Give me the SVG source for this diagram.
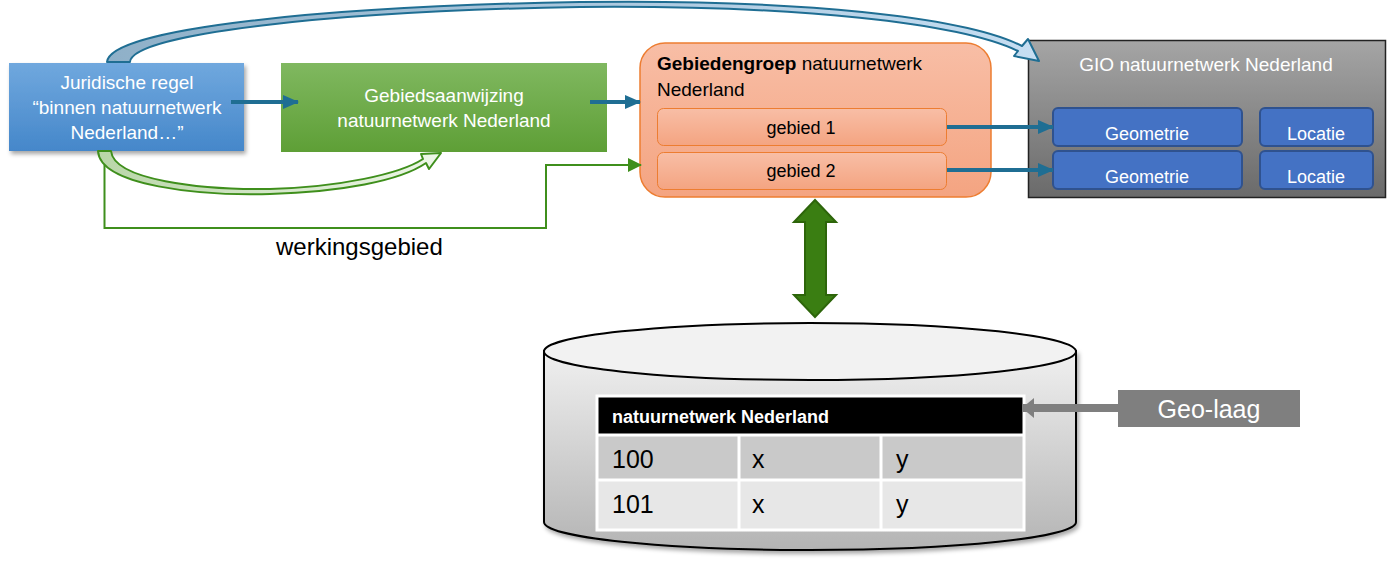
<svg xmlns="http://www.w3.org/2000/svg" width="1387" height="561" viewBox="0 0 1387 561">
<defs>
<style>
text{font-family:"Liberation Sans",Arial,sans-serif}
.w{fill:#fff}
.k{fill:#000}
.teal{stroke:#1f6e93;stroke-width:4;fill:none}
.geo{fill:#4472c4;stroke:#2f528f;stroke-width:2}
.tb{stroke:#fff;stroke-width:3}
</style>
<linearGradient id="gBlue" x1="0" y1="0" x2="0" y2="1"><stop offset="0" stop-color="#70a8de"/><stop offset="1" stop-color="#4587ca"/></linearGradient>
<linearGradient id="gGreen" x1="0" y1="0" x2="0" y2="1"><stop offset="0" stop-color="#80b860"/><stop offset="1" stop-color="#5e9f36"/></linearGradient>
<linearGradient id="gOrange" x1="0" y1="0" x2="0" y2="1"><stop offset="0" stop-color="#f8bea6"/><stop offset="1" stop-color="#f4a481"/></linearGradient>
<linearGradient id="gGray" x1="0" y1="0" x2="0" y2="1"><stop offset="0" stop-color="#a5a5a5"/><stop offset="1" stop-color="#6a6a6a"/></linearGradient>
<linearGradient id="gCyl" x1="0" y1="0" x2="0" y2="1"><stop offset="0" stop-color="#f0f0f0"/><stop offset="1" stop-color="#b4b4b4"/></linearGradient>
<linearGradient id="gTopArrow" x1="0" y1="0" x2="1" y2="0"><stop offset="0" stop-color="#8fb0c8"/><stop offset="1" stop-color="#c6def2"/></linearGradient>
<linearGradient id="gBotArrow" x1="0" y1="0" x2="1" y2="0"><stop offset="0" stop-color="#b9d6a8"/><stop offset="1" stop-color="#eef7e8"/></linearGradient>
<filter id="sh" x="-10%" y="-10%" width="130%" height="140%"><feDropShadow dx="2" dy="3" stdDeviation="2" flood-color="#000" flood-opacity="0.35"/></filter>
<marker id="aTeal" markerUnits="userSpaceOnUse" markerWidth="16" markerHeight="14" refX="15" refY="7" orient="auto"><path d="M0,0 L16,7 L0,14 Z" fill="#1f6e93"/></marker>
<marker id="aGreen" markerUnits="userSpaceOnUse" markerWidth="14" markerHeight="14" refX="13" refY="7" orient="auto"><path d="M0,0 L14,7 L0,14 Z" fill="#3f8f1c"/></marker>
<marker id="aGray" markerUnits="userSpaceOnUse" markerWidth="12" markerHeight="20" refX="11" refY="10" orient="auto"><path d="M0,0 L12,10 L0,20 Z" fill="#7f7f7f"/></marker>
</defs>

<g id="juridische-regel">
<rect x="9" y="63" width="235" height="88" fill="url(#gBlue)" filter="url(#sh)"/>
<text class="w" font-size="19" text-anchor="middle"><tspan x="127" y="89">Juridische regel</tspan><tspan x="127" y="114">“binnen natuurnetwerk</tspan><tspan x="127" y="139">Nederland…”</tspan></text>
</g>

<g id="gebiedsaanwijzing">
<rect x="281" y="63" width="326" height="89" fill="url(#gGreen)"/>
<text class="w" font-size="19" text-anchor="middle"><tspan x="444" y="102">Gebiedsaanwijzing</tspan><tspan x="444" y="127">natuurnetwerk Nederland</tspan></text>
</g>

<g id="gebiedengroep">
<rect x="640" y="43" width="351" height="154" rx="25" fill="url(#gOrange)" stroke="#ed7d31" stroke-width="1.5"/>
<text class="k" font-size="19"><tspan x="657" y="70" font-weight="bold">Gebiedengroep</tspan><tspan> natuurnetwerk</tspan><tspan x="657" y="96">Nederland</tspan></text>
</g>
<g id="gebied-1">
<rect x="657.5" y="108.5" width="289" height="37" rx="6" fill="url(#gOrange)" stroke="#ed7d31" stroke-width="1"/>
<text class="k" font-size="18" text-anchor="middle" x="801" y="134">gebied 1</text>
</g>
<g id="gebied-2">
<rect x="657.5" y="152.5" width="289" height="37" rx="6" fill="url(#gOrange)" stroke="#ed7d31" stroke-width="1"/>
<text class="k" font-size="18" text-anchor="middle" x="801" y="177">gebied 2</text>
</g>

<g id="gio">
<rect x="1028.5" y="40.5" width="357" height="157" fill="url(#gGray)" stroke="#222" stroke-width="1.5"/>
<text class="w" font-size="19" text-anchor="middle" x="1206" y="71">GIO natuurnetwerk Nederland</text>
</g>
<g id="geometrie-1">
<rect class="geo" x="1053" y="108" width="189" height="38" rx="5"/>
<text class="w" font-size="18" text-anchor="middle" x="1147" y="140">Geometrie</text>
</g>
<g id="geometrie-2">
<rect class="geo" x="1053" y="151" width="189" height="38" rx="5"/>
<text class="w" font-size="18" text-anchor="middle" x="1147" y="183">Geometrie</text>
</g>
<g id="locatie-1">
<rect class="geo" x="1260" y="108" width="113" height="38" rx="5"/>
<text class="w" font-size="18" text-anchor="middle" x="1316" y="140">Locatie</text>
</g>
<g id="locatie-2">
<rect class="geo" x="1260" y="151" width="113" height="38" rx="5"/>
<text class="w" font-size="18" text-anchor="middle" x="1316" y="183">Locatie</text>
</g>

<text id="werkingsgebied" class="k" font-size="24" x="276" y="255">werkingsgebied</text>

<g id="database">
<path d="M544,351 V522 A266,28 0 0 0 1076,522 V351 Z" fill="url(#gCyl)" stroke="#000" stroke-width="2" filter="url(#sh)"/>
<ellipse cx="810" cy="351.5" rx="266" ry="28.5" fill="#f2f2f2" stroke="#000" stroke-width="2"/>
<rect x="597" y="396" width="427" height="38" fill="#000"/>
<rect x="597" y="436" width="427" height="44" fill="#c9c9c9"/>
<rect x="597" y="480" width="427" height="50" fill="#e7e7e7"/>
<rect x="597" y="396" width="427" height="134" fill="none" class="tb"/>
<line class="tb" x1="597" y1="435" x2="1024" y2="435"/>
<line class="tb" x1="597" y1="480" x2="1024" y2="480"/>
<line class="tb" x1="739" y1="435" x2="739" y2="530"/>
<line class="tb" x1="881" y1="435" x2="881" y2="530"/>
<text class="w" font-size="18" font-weight="bold" x="612" y="423">natuurnetwerk Nederland</text>
<text class="k" font-size="25" x="612" y="468">100</text>
<text class="k" font-size="25" x="752" y="468">x</text>
<text class="k" font-size="25" x="896" y="468">y</text>
<text class="k" font-size="25" x="612" y="513">101</text>
<text class="k" font-size="25" x="752" y="513">x</text>
<text class="k" font-size="25" x="896" y="513">y</text>
</g>

<g id="geo-laag">
<rect x="1118" y="390" width="182" height="37" fill="#7f7f7f"/>
<text class="w" font-size="25" text-anchor="middle" x="1209" y="418">Geo-laag</text>
</g>

<g id="connectors">
<path d="M107,62 C110,28 330,6 580,2 C800,-1 965,17 1022,46 L1028,39 L1039,61 L1014,56 L1018,51 C960,23 800,5 580,7 C330,11 132,34 130,62 Z" fill="url(#gTopArrow)" stroke="#1f6e93" stroke-width="2" stroke-linejoin="round"/>
<path d="M98,151 C100,186 200,196 270,194 C340,192 400,181 426,163 L429,169 L441,153 L421,154 L423,159 C400,174 340,187 270,189 C200,190 114,180 111,151 Z" fill="url(#gBotArrow)" stroke="#3f8f1c" stroke-width="2" stroke-linejoin="round"/>
<path d="M104.5,165 V228 H546 V165 H641" fill="none" stroke="#3f8f1c" stroke-width="2" marker-end="url(#aGreen)"/>
<line class="teal" x1="231" y1="102" x2="298" y2="102" marker-end="url(#aTeal)"/>
<line class="teal" x1="590" y1="102" x2="640" y2="102" marker-end="url(#aTeal)"/>
<line class="teal" x1="947" y1="127" x2="1053" y2="127" marker-end="url(#aTeal)"/>
<line class="teal" x1="947" y1="170" x2="1053" y2="170" marker-end="url(#aTeal)"/>
<path d="M815,200 L836,222 L826,222 L826,295 L836,295 L815,317 L794,295 L805,295 L805,222 L794,222 Z" fill="#3a7e12" stroke="#2d650a" stroke-width="2" stroke-linejoin="miter"/>
<line x1="1118" y1="408" x2="1023" y2="408" stroke="#7f7f7f" stroke-width="8" marker-end="url(#aGray)"/>
</g>
</svg>
